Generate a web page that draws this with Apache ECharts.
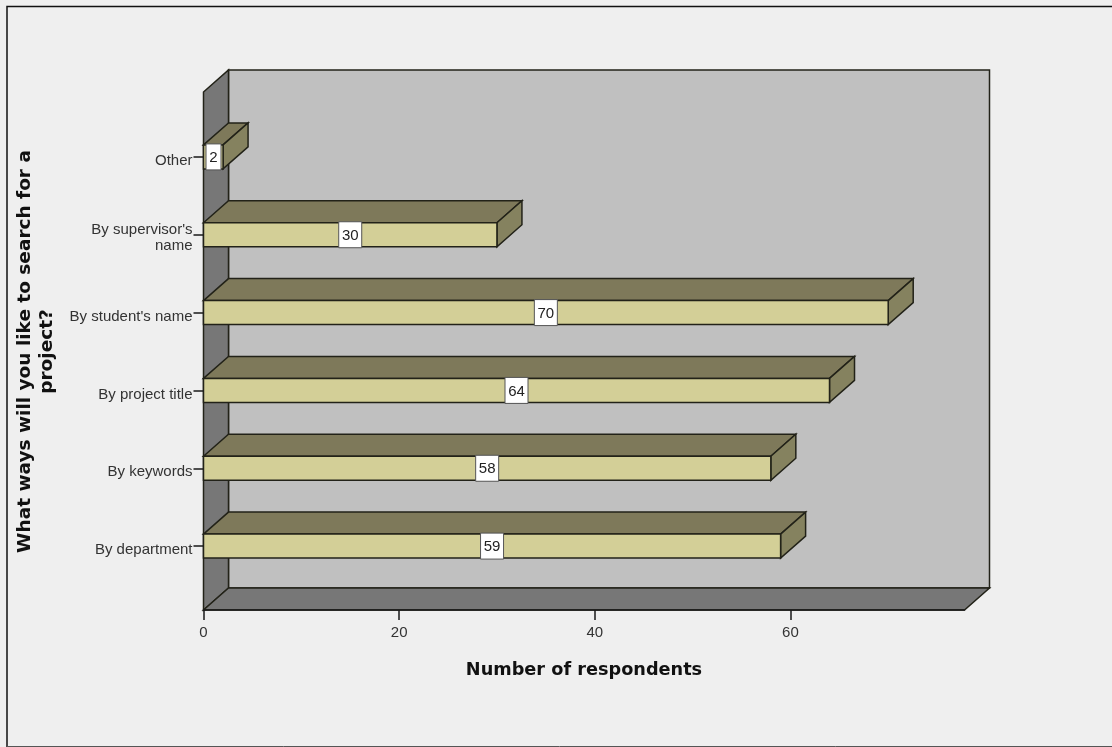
<!DOCTYPE html>
<html>
<head>
<meta charset="utf-8">
<style>html,body{margin:0;padding:0;background:#efefef}#c{width:1112px;height:747px}</style>
<script src="https://cdn.jsdelivr.net/npm/echarts@6/dist/echarts.min.js"></script>
</head>
<body>
<div id="c"></div>
<script>
const categories = ['By department', 'By keywords', 'By project title', "By student's name", "By supervisor's\nname", 'Other'];
const respondents = [59, 58, 64, 70, 30, 2];
const xTicks = [0, 20, 40, 60];
const xTitle = 'Number of respondents';
const yTitle = 'What ways will you like to search for a\nproject?';

const DX = 25, DY = -22, BAR_H = 24;
const EDGE = '#222218';
const chart = echarts.init(document.getElementById('c'), null, {renderer: 'canvas'});

function poly(points, fill, lw) {
  return {type: 'polygon', shape: {points}, style: {fill, stroke: EDGE, lineWidth: lw || 1.5}};
}

function renderWalls(params, api) {
  const c = params.coordSys;
  const l = c.x, r = c.x + c.width, t = c.y - 26, b = c.y + c.height + 25;
  return {type: 'group', children: [
    poly([[l + DX, t + DY], [r + DX, t + DY], [r + DX, b + DY], [l + DX, b + DY]], '#c0c0c0'),
    poly([[l, t], [l + DX, t + DY], [l + DX, b + DY], [l, b]], '#777777'),
    poly([[l, b], [l + DX, b + DY], [r + DX, b + DY], [r, b]], '#777777')
  ]};
}

function renderBar(params, api) {
  const v = api.value(0), i = api.value(1);
  const p0 = api.coord([0, i]), p1 = api.coord([v, i]), pm = api.coord([v / 2, i]);
  const x0 = p0[0], x1 = p1[0], t = p1[1] - BAR_H / 2, b = p1[1] + BAR_H / 2;
  const txt = String(v);
  const bw = txt.length > 1 ? 23 : 15;
  const cx = txt.length > 1 ? pm[0] : x0 + 10;
  return {type: 'group', children: [
    poly([[x0, t], [x0 + DX, t + DY], [x1 + DX, t + DY], [x1, t]], '#7e795a'),
    poly([[x1, t], [x1 + DX, t + DY], [x1 + DX, b + DY], [x1, b]], '#85825f'),
    poly([[x0, t], [x1, t], [x1, b], [x0, b]], '#d3cf97'),
    {type: 'rect', shape: {x: cx - bw / 2, y: t - 1, width: bw, height: BAR_H + 2},
      style: {fill: '#ffffff', stroke: '#555', lineWidth: 1}},
    {type: 'text', x: cx, y: p1[1] + 1,
      style: {text: txt, fill: '#222', font: '15px "Liberation Sans"', align: 'center', verticalAlign: 'middle'}}
  ]};
}

const labelFont = {color: '#333', fontSize: 15, fontFamily: 'Liberation Sans', lineHeight: 17, align: 'right'};

chart.setOption({
  animation: false,
  backgroundColor: '#efefef',
  grid: {left: 203.5, width: 761, top: 118, height: 467, containLabel: false, outerBoundsMode: 'none'},
  xAxis: {
    type: 'value', min: 0, max: 77.8, interval: 20, offset: 25, z: 5,
    splitLine: {show: false},
    axisLine: {show: true, onZero: false, lineStyle: {color: '#1a1a1a', width: 1.5}},
    axisTick: {show: true, length: 10, customValues: xTicks, lineStyle: {color: '#1a1a1a', width: 1.5}},
    axisLabel: {customValues: xTicks, color: '#333', fontSize: 15, fontFamily: 'Liberation Sans', margin: 15},
    name: xTitle, nameLocation: 'middle', nameGap: 51,
    nameTextStyle: {color: '#111', fontSize: 17.7, fontWeight: 'bold', fontFamily: 'DejaVu Sans'}
  },
  yAxis: {
    type: 'category', data: categories, z: 5,
    axisLine: {show: false},
    axisTick: {show: true, length: 10, alignWithLabel: true, lineStyle: {color: '#1a1a1a', width: 1.5}},
    axisLabel: {
      margin: 11, align: 'right',
      formatter: v => v.split('\n').map((s, k) => (k === 0 ? '{first|' : '{rest|') + s + '}').join('\n'),
      rich: {
        first: Object.assign({padding: [8, 0, 0, 0]}, labelFont),
        rest: Object.assign({padding: [5, 0, 0, 0]}, labelFont)
      }
    },
    name: yTitle, nameLocation: 'middle', nameGap: 145, nameRotate: 90,
    nameTextStyle: {color: '#111', fontSize: 18.5, fontWeight: 'bold', fontFamily: 'DejaVu Sans', lineHeight: 22, align: 'center'}
  },
  series: [
    {type: 'custom', coordinateSystem: 'cartesian2d', z: 1, silent: true, clip: false,
      renderItem: renderWalls, data: [[0, 0]]},
    {type: 'custom', coordinateSystem: 'cartesian2d', z: 2, clip: false,
      renderItem: renderBar, data: respondents.map((v, i) => [v, i]), encode: {x: 0, y: 1}}
  ],
  graphic: [
    {type: 'polyline', silent: true, shape: {points: [[7, 747], [7, 6.5], [1112, 6.5]]}, style: {stroke: '#111', lineWidth: 1.5, fill: 'none'}},
    {type: 'line', silent: true, shape: {x1: 7, y1: 746.5, x2: 1112, y2: 746.5}, style: {stroke: '#555', lineWidth: 1}}
  ]
});
</script>
</body>
</html>
